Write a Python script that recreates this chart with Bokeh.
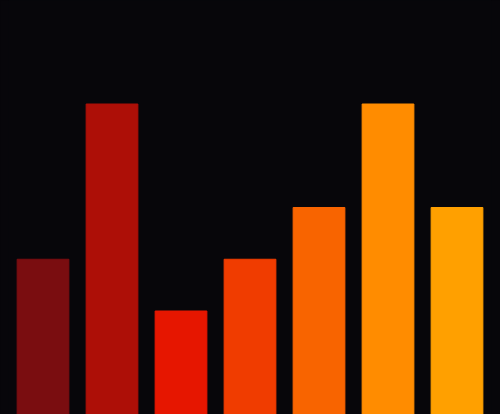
from bokeh.plotting import figure
from bokeh.models import ColumnDataSource, Range1d
from bokeh.embed import file_html
from bokeh.resources import INLINE

categories = ["A", "B", "C", "D", "E", "F", "G"]
values = [3, 6, 2, 3, 4, 6, 4]
colors = ["#7a0d10", "#ad0f07", "#e61600", "#f03c00", "#f86400", "#ff8c00", "#ffa000"]
bg = "#07060a"

src = ColumnDataSource(dict(cat=categories, val=values, col=colors))

p = figure(x_range=categories, y_range=Range1d(0, 8), width=500, height=414,
           output_backend="svg", toolbar_location=None, min_border=0,
           min_border_left=8, min_border_right=9,
           background_fill_color=bg, border_fill_color=bg, outline_line_color=None)
p.vbar(x="cat", top="val", width=0.75, source=src, fill_color="col",
       line_color="col", line_width=1)
p.axis.visible = False
p.grid.visible = False
p.x_range.range_padding = 0

html = file_html(p, INLINE)
html = html.replace("<head>", "<head><style>html,body{background:%s;}</style>" % bg, 1)
open("out.html", "w").write(html)
